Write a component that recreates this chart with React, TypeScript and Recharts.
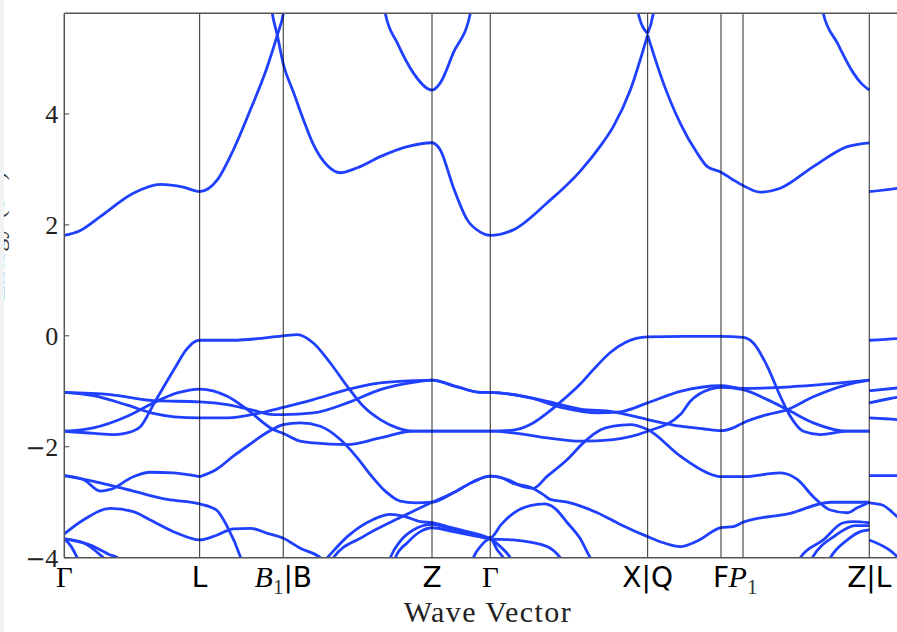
import React from 'react';
import { LineChart, Line, XAxis, YAxis, ReferenceLine } from 'recharts';

type Pt = [number, number];

// high-symmetry k-points (path distance) and their labels
const K_POS = [0, 1.353, 2.19, 3.677, 4.26, 5.833, 6.567, 6.787, 8.05];
const K_LABELS = ['Γ', 'L', 'B₁|B', 'Z', 'Γ', 'X|Q', 'F', 'P₁', 'Z|L'];
const Y_TICKS = [-4, -2, 0, 2, 4];
const X_DOMAIN: [number, number] = [0, 8.457];
const Y_DOMAIN: [number, number] = [-4, 5.814];

// ---- conduction bands [k, E] ----
const cb1: Pt[] = [[0, 1.81], [0.15, 1.89], [0.36, 2.15], [0.69, 2.57], [0.96, 2.73], [1.19, 2.68], [1.353, 2.6], [1.53, 2.81], [1.69, 3.35], [1.86, 4.07], [2.03, 4.85], [2.13, 5.42], [2.19, 5.81], [2.22, 6.2]];
const cb2: Pt[] = [[2.05, 6.2], [2.08, 5.81], [2.13, 5.42], [2.19, 4.9], [2.29, 4.4], [2.39, 3.9], [2.49, 3.45], [2.63, 3.07], [2.76, 2.94], [2.93, 3.03], [3.16, 3.23], [3.43, 3.41], [3.677, 3.48], [3.76, 3.35], [3.89, 2.68], [4.03, 2.09], [4.16, 1.87], [4.26, 1.81], [4.49, 1.91], [4.83, 2.4], [5.16, 2.97], [5.36, 3.42], [5.49, 3.77], [5.66, 4.43], [5.833, 5.42]];
const cb3: Pt[] = [[5.72, 6.2], [5.74, 5.81], [5.833, 5.45]];
const cb4: Pt[] = [[5.833, 5.45], [5.89, 5.81], [5.92, 6.2]];
const cb5: Pt[] = [[5.833, 5.42], [5.99, 4.56], [6.16, 3.83], [6.33, 3.29], [6.43, 3.05], [6.567, 2.95], [6.69, 2.81], [6.787, 2.71], [6.96, 2.59], [7.16, 2.66], [7.49, 3.05], [7.83, 3.41], [8.05, 3.48]];
const cb6: Pt[] = [[3.18, 6.2], [3.21, 5.81], [3.33, 5.28], [3.49, 4.74], [3.63, 4.46], [3.677, 4.43], [3.76, 4.56], [3.89, 5.1], [4.06, 5.81], [4.09, 6.2]];
const cb7: Pt[] = [[7.56, 6.2], [7.59, 5.81], [7.73, 5.28], [7.89, 4.74], [7.97, 4.55], [8.05, 4.43]];
const cb8: Pt[] = [[8.05, 2.6], [8.33, 2.66], [8.46, 2.7]];

// ---- valence bands [k, E] ----
const vb1: Pt[] = [[0, -1.72], [0.3, -1.76], [0.5, -1.78], [0.63, -1.75], [0.76, -1.64], [0.9, -1.21], [1.1, -0.6], [1.22, -0.25], [1.3, -0.11], [1.353, -0.08], [1.69, -0.08], [1.99, -0.04], [2.19, 0], [2.33, 0.02], [2.49, -0.13], [2.66, -0.49], [2.83, -0.91], [2.99, -1.27], [3.16, -1.51], [3.33, -1.66], [3.49, -1.72], [3.677, -1.72], [4.26, -1.72], [4.49, -1.7], [4.66, -1.6], [4.83, -1.39], [4.99, -1.15], [5.16, -0.87], [5.29, -0.61], [5.46, -0.3], [5.61, -0.12], [5.833, -0.02], [6.2, -0.01], [6.567, -0.01], [6.787, -0.03], [6.89, -0.13], [7.03, -0.55], [7.16, -1.09], [7.26, -1.45], [7.39, -1.72], [7.56, -1.78], [7.83, -1.72], [8.05, -1.72]];
const vb2: Pt[] = [[0, -1.72], [0.29, -1.66], [0.63, -1.45], [0.89, -1.21], [1.13, -1.03], [1.353, -0.96], [1.63, -1.09], [1.83, -1.33], [2.09, -1.69], [2.19, -1.76], [2.36, -1.9], [2.49, -1.93], [2.83, -1.96], [3.16, -1.84], [3.49, -1.72], [3.677, -1.72], [4.26, -1.72], [4.49, -1.75], [4.83, -1.84], [5.16, -1.9], [5.49, -1.87], [5.833, -1.72], [6.16, -1.42], [6.26, -1.18], [6.46, -0.96], [6.567, -0.93], [6.787, -0.97], [7.03, -1.15], [7.23, -1.33], [7.49, -1.57], [7.83, -1.72], [8.05, -1.72]];
const vb3: Pt[] = [[0, -1.02], [0.46, -1.06], [0.89, -1.17], [1.353, -1.19], [1.63, -1.24], [1.86, -1.33], [2.09, -1.42], [2.19, -1.42], [2.49, -1.39], [2.83, -1.21], [3.16, -0.97], [3.49, -0.84], [3.677, -0.8], [3.93, -0.92], [4.16, -1.02], [4.26, -1.02], [4.49, -1.06], [4.83, -1.18], [5.16, -1.32], [5.49, -1.37], [5.833, -1.51], [6.16, -1.63], [6.4, -1.68], [6.567, -1.71], [6.69, -1.66], [6.787, -1.57], [7.03, -1.42], [7.23, -1.33], [7.49, -1.1], [7.83, -0.88], [8.05, -0.8]];
const vb4: Pt[] = [[0, -1.02], [0.29, -1.08], [0.63, -1.25], [0.89, -1.4], [1.1, -1.46], [1.353, -1.48], [1.63, -1.48], [1.96, -1.39], [2.19, -1.29], [2.49, -1.15], [2.83, -0.97], [3.16, -0.85], [3.49, -0.81], [3.677, -0.8], [3.93, -0.92], [4.16, -1.02], [4.26, -1.02], [4.66, -1.12], [4.99, -1.3], [5.33, -1.39], [5.56, -1.37], [5.833, -1.21], [6.16, -1.0], [6.567, -0.9], [6.787, -0.95], [7.26, -0.92], [7.76, -0.85], [8.05, -0.8]];
const vb5: Pt[] = [[1.353, -2.54], [1.52, -2.41], [1.69, -2.17], [1.86, -1.95], [2.03, -1.74], [2.19, -1.6], [2.36, -1.57], [2.56, -1.63], [2.76, -1.87], [2.93, -2.2], [3.06, -2.5], [3.21, -2.8], [3.36, -2.98], [3.51, -3.01], [3.677, -3.0], [3.89, -2.83], [4.09, -2.63], [4.26, -2.53], [4.43, -2.59], [4.59, -2.72], [4.69, -2.75], [4.83, -2.53], [5.03, -2.23], [5.19, -1.93], [5.36, -1.7], [5.49, -1.63], [5.66, -1.6], [5.833, -1.69], [6.16, -2.17], [6.43, -2.47], [6.567, -2.54], [6.787, -2.54], [7.16, -2.47], [7.33, -2.59], [7.49, -2.9], [7.66, -3.14], [7.83, -3.19], [7.93, -3.1], [8.05, -3.0]];
const vb6: Pt[] = [[0, -2.52], [0.19, -2.59], [0.36, -2.8], [0.46, -2.77], [0.69, -2.54], [0.86, -2.46], [1.09, -2.47], [1.353, -2.54]];
const vb7: Pt[] = [[0, -2.52], [0.36, -2.65], [0.69, -2.8], [1.03, -2.95], [1.353, -3.03], [1.52, -3.14], [1.63, -3.44], [1.76, -3.98], [1.8, -4.2]];
const vb8: Pt[] = [[0, -3.57], [0.19, -3.32], [0.46, -3.11], [0.69, -3.17], [0.86, -3.32], [1.13, -3.56], [1.353, -3.68], [1.53, -3.59], [1.69, -3.48], [1.86, -3.47], [2.03, -3.56], [2.19, -3.65], [2.36, -3.83], [2.56, -4.0], [2.62, -4.1]];
const vb9: Pt[] = [[0, -3.66], [0.07, -3.8], [0.13, -4.0], [0.16, -4.1]];
const vb10: Pt[] = [[0, -3.66], [0.19, -3.73], [0.36, -3.95], [0.39, -4.0], [0.42, -4.1]];
const vb11: Pt[] = [[0, -3.66], [0.26, -3.77], [0.46, -3.95], [0.53, -4.0], [0.56, -4.1]];
const vb12: Pt[] = [[2.58, -4.1], [2.63, -4.0], [2.83, -3.62], [3.09, -3.31], [3.26, -3.22], [3.39, -3.25], [3.56, -3.35], [3.677, -3.37], [3.83, -3.44], [4.03, -3.53], [4.16, -3.59], [4.26, -3.64], [4.37, -3.4], [4.49, -3.2], [4.66, -3.06], [4.8, -3.03], [4.9, -3.1], [5.03, -3.37], [5.16, -3.66], [5.26, -4.0], [5.3, -4.1]];
const vb13: Pt[] = [[2.66, -4.1], [2.69, -4.0], [2.99, -3.62], [3.39, -3.25], [3.677, -3.0], [3.89, -2.83], [4.09, -2.63], [4.26, -2.53], [4.36, -2.55], [4.49, -2.66], [4.66, -2.73], [4.78, -2.85], [4.86, -2.95], [5.03, -3.0], [5.33, -3.19], [5.56, -3.4], [5.833, -3.62], [5.99, -3.73], [6.16, -3.8], [6.33, -3.7], [6.567, -3.46], [6.69, -3.44], [6.787, -3.36], [7.26, -3.2], [7.66, -3.0], [8.05, -3.0]];
const vb14: Pt[] = [[3.24, -4.1], [3.26, -4.0], [3.36, -3.7], [3.49, -3.5], [3.677, -3.4], [3.89, -3.5], [4.09, -3.59], [4.26, -3.66], [4.49, -3.68], [4.83, -3.8], [4.96, -4.0], [5.0, -4.1]];
const vb15: Pt[] = [[3.29, -4.1], [3.31, -4.0], [3.43, -3.73], [3.56, -3.53], [3.677, -3.46], [3.89, -3.53], [4.09, -3.6], [4.26, -3.66], [4.36, -3.8], [4.46, -4.0], [4.49, -4.1]];
const vb16: Pt[] = [[4.07, -4.1], [4.09, -4.0], [4.16, -3.8], [4.26, -3.66], [4.33, -3.86], [4.39, -4.0], [4.42, -4.1]];
const vb17: Pt[] = [[7.33, -4.1], [7.36, -4.0], [7.59, -3.68], [7.79, -3.37], [7.89, -3.35], [8.05, -3.37]];
const vb18: Pt[] = [[7.45, -4.1], [7.48, -4.0], [7.71, -3.6], [7.91, -3.42], [8.05, -3.42]];
const vb19: Pt[] = [[7.63, -4.1], [7.66, -4.0], [7.83, -3.68], [7.96, -3.53], [8.05, -3.5]];
// segment after Z|L
const vb20: Pt[] = [[8.05, -0.08], [8.33, -0.05], [8.46, -0.03]];
const vb21: Pt[] = [[8.05, -0.99], [8.33, -0.94], [8.46, -0.92]];
const vb22: Pt[] = [[8.05, -1.21], [8.26, -1.13], [8.33, -1.11], [8.46, -1.08]];
const vb23: Pt[] = [[8.05, -1.48], [8.33, -1.51], [8.46, -1.53]];
const vb24: Pt[] = [[8.05, -2.52], [8.33, -2.52], [8.46, -2.51]];
const vb25: Pt[] = [[8.05, -3.01], [8.18, -3.05], [8.33, -3.26], [8.46, -3.45]];
const vb26: Pt[] = [[8.05, -3.68], [8.25, -3.86], [8.33, -3.98], [8.4, -4.1]];

const BANDS: Pt[][] = [cb1, cb2, cb3, cb4, cb5, cb6, cb7, cb8, vb1, vb2, vb3, vb4, vb5, vb6, vb7, vb8, vb9, vb10, vb11, vb12, vb13, vb14, vb15, vb16, vb17, vb18, vb19, vb20, vb21, vb22, vb23, vb24, vb25, vb26];

const BLUE = '#2040ff';
const SANS = '"DejaVu Sans", sans-serif';
const SERIF = '"Liberation Serif", "DejaVu Serif", serif';

function labelParts(label: string) {
  const out: React.ReactNode[] = [];
  let shifted = false;
  label.split('|').forEach((p, i) => {
    const restore = shifted ? -7 : 0;
    shifted = false;
    if (i > 0) {
      out.push(<tspan key={'bar' + i} fontFamily={SANS} dy={restore}>|</tspan>);
    }
    const r2 = i > 0 ? 0 : restore;
    if (p === 'Γ') {
      out.push(<tspan key={'g' + i} fontFamily={SERIF} fontSize={29} dy={r2}>Γ</tspan>);
    } else if (p.endsWith('₁')) {
      out.push(<tspan key={'it' + i} fontFamily={SERIF} fontStyle="italic" fontSize={30} dy={r2}>{p[0]}</tspan>);
      out.push(<tspan key={'sub' + i} fontFamily={SERIF} fontSize={21} fill="#333" dy={7}>1</tspan>);
      shifted = true;
    } else {
      out.push(<tspan key={'s' + i} fontFamily={SANS} dy={r2}>{p}</tspan>);
    }
  });
  return out;
}

function XTick(props: any) {
  const { x, y, payload } = props;
  const idx = K_POS.findIndex((k) => Math.abs(k - payload.value) < 1e-6);
  const label = idx >= 0 ? K_LABELS[idx] : '';
  return (
    <text x={x} y={y + 29} textAnchor="middle" fontSize={28} fill="#000">
      {labelParts(label)}
    </text>
  );
}

function YTick(props: any) {
  const { x, y, payload } = props;
  const v = payload.value as number;
  return (
    <g>
      <line x1={x} x2={x + 5} y1={y} y2={y} stroke="#444" strokeWidth={1} />
      <text x={x - 6} y={y + 9} textAnchor="end" fontFamily={SERIF} fontSize={26} fill="#222">
        {v < 0 ? <tspan fontFamily='"DejaVu Serif", serif' fontSize={24}>{'\u2212'}</tspan> : null}
        <tspan>{String(Math.abs(v))}</tspan>
      </text>
    </g>
  );
}

function XTitle(props: any) {
  const vb = props.viewBox || {};
  const cx = (vb.x ?? 64.3) + (vb.width ?? 845.7) / 2;
  const top = vb.y ?? 557.7;
  return (
    <text x={cx} y={top + 64} textAnchor="middle" fontFamily={SERIF} fontSize={30} textLength={167} lengthAdjust="spacing" fill="#222">Wave Vector</text>
  );
}

function YTitle() {
  return (
    <text x={4} y={236} transform="rotate(-90, 4, 236)" textAnchor="middle" fontFamily={SERIF} fontSize={26} fill="#333">Energy (eV)</text>
  );
}

export default function App() {
  return (
    <div style={{ position: 'absolute', left: 0, top: 0, width: 897, height: 632, overflow: 'hidden', background: '#fff' }}>
      <LineChart width={915} height={632} margin={{ top: 13.3, right: 5, bottom: 0, left: 0 }}>
        <XAxis
          type="number"
          dataKey="k"
          domain={X_DOMAIN}
          ticks={K_POS}
          interval={0}
          allowDataOverflow
          height={74.3}
          tickSize={0}
          tickMargin={0}
          tickLine={false}
          axisLine={{ stroke: '#555', strokeWidth: 1.5 }}
          tick={<XTick />}
          label={<XTitle />}
        />
        <YAxis
          type="number"
          domain={Y_DOMAIN}
          ticks={Y_TICKS}
          interval={0}
          allowDataOverflow
          width={64.3}
          tickSize={0}
          tickMargin={0}
          tickLine={false}
          axisLine={{ stroke: '#555', strokeWidth: 1.5 }}
          tick={<YTick />}
          label={<YTitle />}
        />
        {BANDS.map((band, i) => (
          <Line
            key={'band' + i}
            data={band.map(([k, e]) => ({ k, e }))}
            dataKey="e"
            type="monotone"
            stroke={BLUE}
            strokeWidth={2.8}
            dot={false}
            activeDot={false}
            isAnimationActive={false}
          />
        ))}
        {K_POS.slice(1).map((k) => (
          <ReferenceLine key={'v' + k} x={k} stroke="#000" strokeOpacity={0.7} strokeWidth={1.2} />
        ))}
        <ReferenceLine y={Y_DOMAIN[1]} stroke="#555" strokeWidth={1.5} />
      </LineChart>
      <div style={{ position: 'absolute', left: 0, top: 0, width: 4, height: 632, background: '#f2f2f2' }} />
    </div>
  );
}
